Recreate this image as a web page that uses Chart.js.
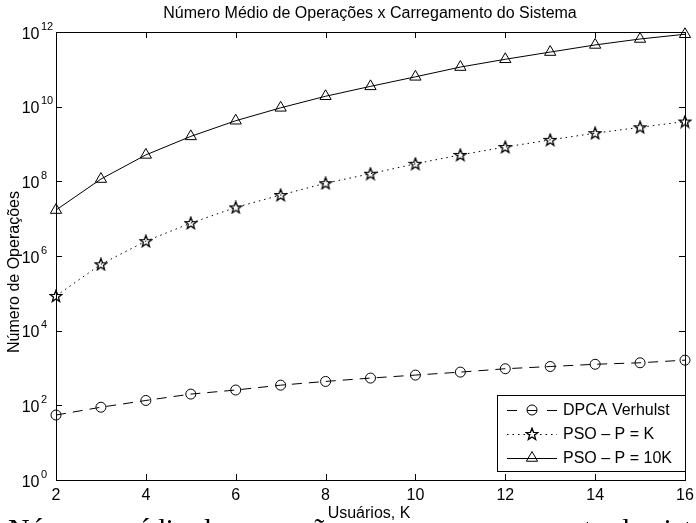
<!DOCTYPE html>
<html>
<head>
<meta charset="utf-8">
<script src="https://cdn.jsdelivr.net/npm/chart.js@4/dist/chart.umd.min.js"></script>
<style>
  html, body { margin: 0; padding: 0; background: #fff; overflow: hidden; }
  #wrap { position: relative; width: 696px; height: 523px; }
</style>
</head>
<body>
<div id="wrap"><canvas id="c" width="696" height="523"></canvas></div>
<script>
// ---- data ----
const usuarios = [2, 3, 4, 5, 6, 7, 8, 9, 10, 11, 12, 13, 14, 15, 16];
const dpcaVerhulst = [55, 89, 135, 200, 257, 347, 437, 537, 646, 776, 955, 1096, 1259, 1380, 1622];
const psoPK = [8.5e4, 6.0e5, 2.5e6, 7.6e6, 2.0e7, 4.3e7, 8.9e7, 1.6e8, 2.95e8, 5.1e8, 8.3e8, 1.29e9, 1.95e9, 2.8e9, 4.0e9];
const psoP10K = [1.7e7, 1.15e8, 5.1e8, 1.6e9, 4.2e9, 9.3e9, 1.9e10, 3.5e10, 6.3e10, 1.15e11, 1.86e11, 2.9e11, 4.5e11, 6.5e11, 8.7e11];
const seriesNames = ['DPCA Verhulst', 'PSO \u2013 P = K', 'PSO \u2013 P = 10K'];
const xTickValues = [2, 4, 6, 8, 10, 12, 14, 16];
const yTickExponents = [0, 2, 4, 6, 8, 10, 12];
const titleText = 'Número Médio de Operações x Carregamento do Sistema';
const xTitle = 'Usuários, K';
const yTitle = 'Número de Operações';
const captionText = 'Número médio de operações versus carregamento do sistema';

const FONT = '"Liberation Sans", Arial, Helvetica, sans-serif';

// five-pointed star marker
function makeStar() {
  const cv = document.createElement('canvas');
  cv.width = 14; cv.height = 14;
  const g = cv.getContext('2d');
  const cx = 7, cy = 7.4, R = 6.2, r = 2.6;
  g.beginPath();
  for (let i = 0; i < 10; i++) {
    const rad = i % 2 === 0 ? R : r;
    const a = -Math.PI / 2 + i * Math.PI / 5;
    const px = cx + rad * Math.cos(a), py = cy + rad * Math.sin(a);
    if (i === 0) g.moveTo(px, py); else g.lineTo(px, py);
  }
  g.closePath();
  g.strokeStyle = '#000';
  g.lineWidth = 1.3;
  g.stroke();
  return cv;
}
const starImg = makeStar();

const styles = [
  { dash: [10, 7], pointStyle: 'circle', radius: 5 },
  { dash: [1.5, 4], pointStyle: starImg, radius: 6 },
  { dash: [], pointStyle: 'triangle', radius: 6.5 }
];

const seriesData = [dpcaVerhulst, psoPK, psoP10K];
const datasets = seriesData.map((arr, i) => ({
  label: seriesNames[i],
  data: usuarios.map((x, j) => ({ x: x, y: arr[j] })),
  borderColor: '#000',
  borderWidth: 1,
  borderDash: styles[i].dash,
  pointStyle: styles[i].pointStyle,
  pointRadius: styles[i].radius,
  pointBorderColor: '#000',
  pointBorderWidth: 1,
  pointBackgroundColor: 'rgba(0,0,0,0)',
  tension: 0,
  clip: false,
  fill: false
}));

const decorPlugin = {
  id: 'decor',
  beforeDatasetsDraw(chart) {
    const ctx = chart.ctx;
    const a = chart.chartArea;
    const xs = chart.scales.x, ys = chart.scales.y;
    ctx.save();
    ctx.strokeStyle = '#000';
    ctx.lineWidth = 1;
    // box
    ctx.strokeRect(Math.round(a.left) + 0.5, Math.round(a.top) + 0.5,
                   Math.round(a.right - a.left), Math.round(a.bottom - a.top));
    // inward ticks
    ctx.beginPath();
    xTickValues.forEach(v => {
      const px = Math.round(xs.getPixelForValue(v)) + 0.5;
      ctx.moveTo(px, a.bottom); ctx.lineTo(px, a.bottom - 6);
      ctx.moveTo(px, a.top); ctx.lineTo(px, a.top + 6);
    });
    yTickExponents.forEach(e => {
      const py = Math.round(ys.getPixelForValue(Math.pow(10, e))) + 0.5;
      ctx.moveTo(a.left, py); ctx.lineTo(a.left + 6, py);
      ctx.moveTo(a.right, py); ctx.lineTo(a.right - 6, py);
    });
    ctx.stroke();

    ctx.fillStyle = '#000';
    // x tick labels
    ctx.font = '16px ' + FONT;
    ctx.textAlign = 'center';
    ctx.textBaseline = 'alphabetic';
    xTickValues.forEach(v => {
      ctx.fillText(String(v), xs.getPixelForValue(v), 500);
    });
    // y tick labels 10^e
    yTickExponents.forEach(e => {
      const py = ys.getPixelForValue(Math.pow(10, e));
      ctx.font = '16px ' + FONT;
      ctx.textAlign = 'right';
      ctx.textBaseline = 'alphabetic';
      ctx.fillText('10', 39.5, py + 6.5);
      ctx.font = '11px ' + FONT;
      ctx.textAlign = 'left';
      ctx.fillText(String(e), 41, py - 2.5);
    });
    // title
    ctx.font = '16px ' + FONT;
    ctx.textAlign = 'center';
    ctx.fillText(titleText, 370, 18);
    // x title
    ctx.fillText(xTitle, 369, 518);
    // y title
    ctx.save();
    ctx.translate(19, 272);
    ctx.rotate(-Math.PI / 2);
    ctx.fillText(yTitle, 0, 0);
    ctx.restore();
    // cropped caption below
    ctx.font = '30px "Liberation Serif", "Times New Roman", serif';
    ctx.textAlign = 'left';
    ctx.fillText(captionText, 8, 539);
    ctx.restore();
  },
  afterDatasetsDraw(chart) {
    const ctx = chart.ctx;
    ctx.save();
    const bx = 497, by = 395, bw = 188, bh = 76;
    ctx.fillStyle = '#fff';
    ctx.fillRect(bx, by, bw, bh);
    ctx.strokeStyle = '#000';
    ctx.lineWidth = 1;
    ctx.strokeRect(bx + 0.5, by + 0.5, bw, bh);
    const rows = [410, 434, 458];
    rows.forEach((ry, i) => {
      const y = ry + 0.5;
      ctx.strokeStyle = '#000';
      ctx.lineWidth = 1;
      ctx.beginPath();
      if (i === 0) {
        ctx.setLineDash([]);
        ctx.moveTo(507, y); ctx.lineTo(517, y);
        ctx.moveTo(527, y); ctx.lineTo(537, y);
        ctx.moveTo(547, y); ctx.lineTo(557, y);
      } else {
        ctx.setLineDash(styles[i].dash);
        ctx.moveTo(507, y); ctx.lineTo(557, y);
      }
      ctx.stroke();
      ctx.setLineDash([]);
      ctx.fillStyle = 'rgba(0,0,0,0)';
      ctx.strokeStyle = '#000';
      Chart.helpers.drawPoint(ctx, {
        pointStyle: styles[i].pointStyle,
        radius: styles[i].radius,
        rotation: 0,
        borderWidth: 1
      }, 532, ry);
      ctx.fillStyle = '#000';
      ctx.font = '16px ' + FONT;
      ctx.textAlign = 'left';
      ctx.textBaseline = 'middle';
      ctx.fillText(seriesNames[i], 563, ry + 1);
    });
    ctx.restore();
  }
};

new Chart(document.getElementById('c'), {
  type: 'line',
  data: { datasets: datasets },
  options: {
    responsive: false,
    animation: false,
    devicePixelRatio: 1,
    layout: { padding: { top: 32, right: 11, left: 0, bottom: 0 } },
    plugins: { legend: { display: false }, tooltip: { enabled: false }, title: { display: false } },
    scales: {
      x: {
        type: 'linear', min: 2, max: 16,
        grid: { display: false }, border: { display: false },
        ticks: { display: false, stepSize: 2 },
        afterFit(s) { s.height = 43; }
      },
      y: {
        type: 'logarithmic', min: 1, max: 1e12,
        grid: { display: false }, border: { display: false },
        ticks: { display: false },
        afterFit(s) { s.width = 56; }
      }
    }
  },
  plugins: [decorPlugin]
});
</script>
</body>
</html>
